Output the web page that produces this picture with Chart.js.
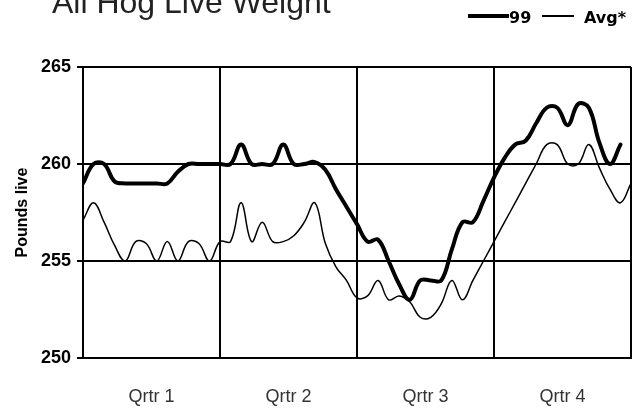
<!DOCTYPE html>
<html>
<head>
<meta charset="utf-8">
<title>All Hog Live Weight</title>
<script src="https://cdn.jsdelivr.net/npm/chart.js@4"></script>
<style>
	body { margin: 0; background: #fff; }
	#wrap { position: relative; width: 641px; height: 409px; overflow: hidden; }
	#title { position: absolute; left: 52px; top: -14px; font: 32px/32px "Liberation Sans", Arial, sans-serif; color: #222; white-space: nowrap; }
	.key-line { position: absolute; background: #000; }
	.key-text { position: absolute; top: 9.5px; font: bold 16px/16px "DejaVu Sans", sans-serif; color: #000; }
</style>
</head>
<body>
<div id="wrap">
	<canvas id="weight-canvas" width="641" height="409"></canvas>
	<div id="title">All Hog Live Weight</div>
	<div class="key-line" style="left:468px; top:14px; width:41px; height:4px;"></div>
	<div class="key-text" style="left:509px;">99</div>
	<div class="key-line" style="left:542px; top:15px; width:32px; height:1.5px;"></div>
	<div class="key-text" style="left:584px;">Avg*</div>
</div>
<script>
// weekly live weight, pounds
const quarterLabels = ["Qrtr 1", "Qrtr 2", "Qrtr 3", "Qrtr 4"];
const weeksPerQuarter = 13;

const weights99 = [
	259.0, 260.0, 260.0, 259.1, 259.0, 259.0, 259.0, 259.0, 259.0, 259.6, 260.0, 260.0, 260.0,
	260.0, 260.0, 261.0, 260.0, 260.0, 260.0, 261.0, 260.0, 260.0, 260.1, 259.7, 258.7, 257.8,
	256.9, 256.0, 256.1, 255.0, 253.8, 253.0, 254.0, 254.0, 254.0, 255.6, 257.0, 257.0, 258.1,
	259.3, 260.3, 261.0, 261.2, 262.1, 262.9, 262.9, 262.0, 263.1, 262.9, 261.1, 260.0, 261.0
];

const avgWeights = [
	257.1, 258.0, 257.0, 255.8, 255.0, 256.0, 255.9, 255.0, 256.0, 255.0, 256.0, 255.9, 255.0,
	256.0, 256.0, 258.0, 256.0, 257.0, 256.0, 256.0, 256.3, 257.0, 258.0, 255.9, 254.7, 254.0,
	253.1, 253.2, 254.0, 253.0, 253.2, 252.9, 252.1, 252.1, 252.8, 254.0, 253.0, 254.0, 255.0,
	256.0, 257.0, 258.0, 259.0, 260.0, 261.0, 261.0, 260.0, 260.0, 261.0, 259.8, 258.7, 258.0,
	259.0
];

const toPoints = (arr) => arr.map((v, i) => ({ x: i, y: v }));

// quarter boundaries get a grid line, quarter middles get the label
const xTicks = [];
for (let q = 0; q < quarterLabels.length; q++) {
	xTicks.push(q * weeksPerQuarter);
	xTicks.push(q * weeksPerQuarter + weeksPerQuarter / 2);
}
xTicks.push(quarterLabels.length * weeksPerQuarter);

const tickFont = { family: "'Liberation Sans', Arial, sans-serif", size: 18, weight: "bold" };

new Chart("weight-canvas", {
	type: "line",
	data: {
		datasets: [
			{
				label: "99",
				data: toPoints(weights99),
				borderColor: "#000",
				borderWidth: 4,
				borderJoinStyle: "round",
				borderCapStyle: "round",
				pointRadius: 0,
				tension: 0.4,
				fill: false,
			},
			{
				label: "Avg*",
				data: toPoints(avgWeights),
				borderColor: "#000",
				borderWidth: 1.5,
				borderJoinStyle: "round",
				pointRadius: 0,
				tension: 0.4,
				fill: false,
			},
		],
	},
	options: {
		responsive: false,
		animation: false,
		layout: {
			padding: { top: 67, right: 10, bottom: 0, left: 0 },
		},
		plugins: {
			legend: { display: false },
			tooltip: { enabled: false },
		},
		scales: {
			x: {
				type: "linear",
				min: 0,
				max: quarterLabels.length * weeksPerQuarter,
				afterBuildTicks: (axis) => {
					axis.ticks = xTicks.map((v) => ({ value: v }));
				},
				afterFit: (axis) => {
					axis.height = 51;
					// the label padding should not squeeze the plot sideways
					axis.paddingLeft = 0;
					axis.paddingRight = 0;
				},
				grid: {
					color: (ctx) => (ctx.tick && ctx.tick.value % weeksPerQuarter === 0 ? "#000" : "rgba(0,0,0,0)"),
					lineWidth: 2,
					drawTicks: false,
				},
				border: { display: true, color: "#000", width: 2 },
				ticks: {
					autoSkip: false,
					maxRotation: 0,
					padding: 28,
					color: "#333",
					font: { family: "'Liberation Sans', Arial, sans-serif", size: 18 },
					callback: (value) => {
						if (value % weeksPerQuarter === weeksPerQuarter / 2) {
							return quarterLabels[Math.floor(value / weeksPerQuarter)];
						}
						return "";
					},
				},
			},
			y: {
				min: 250,
				max: 265,
				afterFit: (axis) => {
					axis.width = 83;
				},
				title: {
					display: true,
					text: "Pounds live",
					color: "#000",
					font: { family: "'Liberation Sans', Arial, sans-serif", size: 16, weight: "bold" },
					padding: { top: 13, bottom: 0 },
				},
				grid: {
					color: "#000",
					lineWidth: 2,
					tickLength: 6,
				},
				border: { display: true, color: "#000", width: 2 },
				ticks: {
					stepSize: 5,
					padding: 6,
					color: "#000",
					font: tickFont,
				},
			},
		},
	},
});
</script>
</body>
</html>
